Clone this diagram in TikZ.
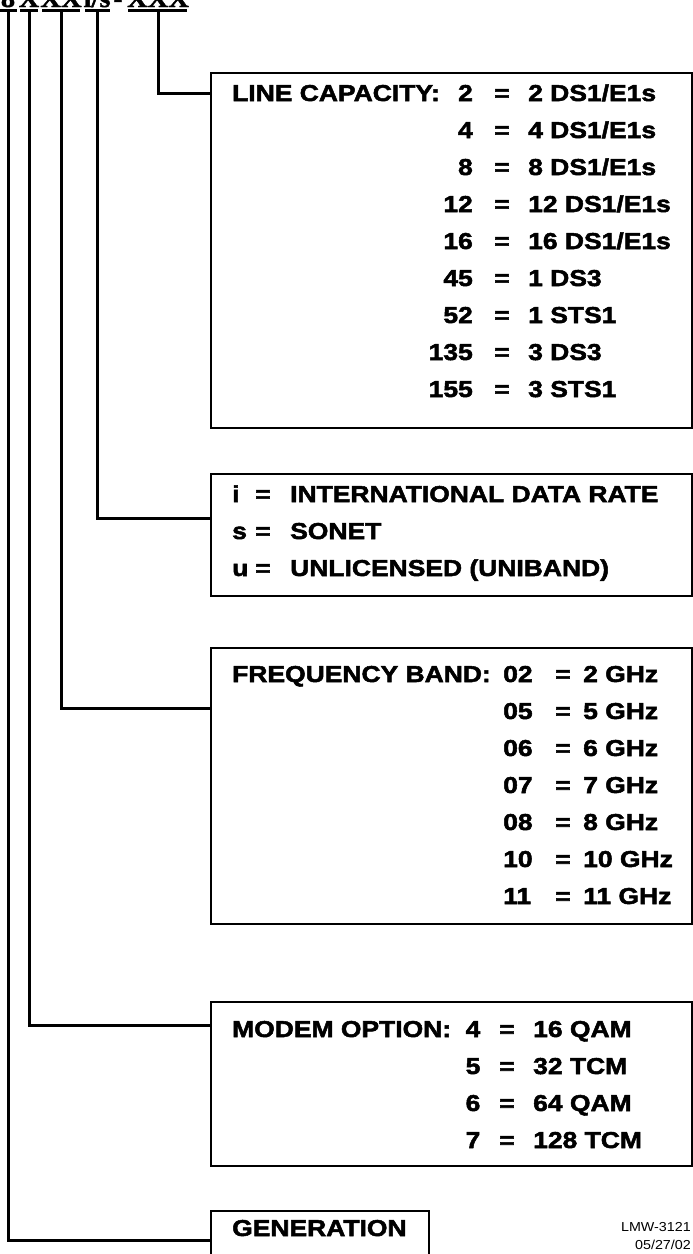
\documentclass[tikz,border=0pt]{standalone}
\usepackage{fontspec}
\newfontfamily\etiq[FakeStretch=1.15,FakeBold=2.2]{Liberation Sans Bold}
\newfontfamily\etiqfina[FakeStretch=1.1]{Liberation Sans}
\newfontfamily\cabecera[FakeStretch=1.1,FakeBold=1.5]{Liberation Serif Bold}
\begin{document}
\begin{tikzpicture}[x=1pt, y=-1pt,
		caja/.style={draw, line width=1.8pt, minimum width=481pt, inner sep=0pt, anchor=north west},
		txt/.style={font=\etiq\fontsize{23}{23}\selectfont, inner sep=0pt},
		cab/.style={font=\cabecera\fontsize{26}{26}\selectfont, inner sep=0pt, anchor=base},
		hilo/.style={line width=3pt},
		nota/.style={font=\etiqfina\fontsize{13}{13}\selectfont, inner sep=0pt, anchor=base east}]

	\useasboundingbox (0,0) rectangle (693,1254);

	% Cabecera (cortada por arriba)
	\node[cab] (hGen) at (8,7) {8};
	\node[cab] (hMod) at (29,7) {X};
	\node[cab] (hFrq) at (61,7) {XX};
	\node[cab] (hOpt) at (97,7) {i/s};
	\node[cab] (hGuion) at (118,7) {-};
	\node[cab] (hCap) at (158,7) {XXX};

	\coordinate (uGen) at (8,10.5);
	\coordinate (uMod) at (29,10.5);
	\coordinate (uFrq) at (61,10.5);
	\coordinate (uOpt) at (97,10.5);
	\coordinate (uCap) at (158,10.5);

	\draw[hilo] (0,10.5) -- (17,10.5);
	\draw[hilo] (20,10.5) -- (38,10.5);
	\draw[hilo] (42,10.5) -- (80,10.5);
	\draw[hilo] (85,10.5) -- (110,10.5);
	\draw[hilo] (128,10.5) -- (187,10.5);

	% Cajas
	\node[caja, minimum height=355pt] (cap) at (210,72) {};
	\node[caja, minimum height=122pt] (opt) at (210,473) {};
	\node[caja, minimum height=276pt] (frq) at (210,647) {};
	\node[caja, minimum height=164pt] (mod) at (210,1001) {};
	\node[caja, minimum width=218pt, minimum height=60pt] (gen) at (210,1210) {};

	% Conectores
	\draw[hilo] (uCap) |- ([yshift=-21pt]cap.north west);
	\draw[hilo] (uOpt) |- ([yshift=-45pt]opt.north west);
	\draw[hilo] (uFrq) |- ([yshift=-61pt]frq.north west);
	\draw[hilo] (uMod) |- ([yshift=-24pt]mod.north west);
	\draw[hilo] (uGen) |- ([yshift=-30pt]gen.north west);

	% Capacidad de linea
	\node[txt, anchor=base west] (capT) at (232,101) {LINE CAPACITY:};
	\foreach \n/\v [count=\i from 0] in {2/{2 DS1/E1s}, 4/{4 DS1/E1s}, 8/{8 DS1/E1s}, 12/{12 DS1/E1s}, 16/{16 DS1/E1s}, 45/{1 DS3}, 52/{1 STS1}, 135/{3 DS3}, 155/{3 STS1}} {
		\node[txt, anchor=base east] (capN\i) at (473,101+37*\i) {\n};
		\node[txt, anchor=base] (capE\i) at (502,101+37*\i) {=};
		\node[txt, anchor=base west] (capV\i) at (528,101+37*\i) {\v};
	}

	% Opciones i/s/u
	\foreach \n/\v [count=\i from 0] in {i/{INTERNATIONAL DATA RATE}, s/SONET, u/{UNLICENSED (UNIBAND)}} {
		\node[txt, anchor=base west] (optN\i) at (232,502+37*\i) {\n};
		\node[txt, anchor=base] (optE\i) at (263,502+37*\i) {=};
		\node[txt, anchor=base west] (optV\i) at (290,502+37*\i) {\v};
	}

	% Banda de frecuencia
	\node[txt, anchor=base west] (frqT) at (232,682) {FREQUENCY BAND:};
	\foreach \n/\v [count=\i from 0] in {02/{2 GHz}, 05/{5 GHz}, 06/{6 GHz}, 07/{7 GHz}, 08/{8 GHz}, 10/{10 GHz}, 11/{11 GHz}} {
		\node[txt, anchor=base west] (frqN\i) at (503,682+37*\i) {\n};
		\node[txt, anchor=base] (frqE\i) at (563,682+37*\i) {=};
		\node[txt, anchor=base west] (frqV\i) at (583,682+37*\i) {\v};
	}

	% Modem
	\node[txt, anchor=base west] (modT) at (232,1037) {MODEM OPTION:};
	\foreach \n/\v [count=\i from 0] in {4/{16 QAM}, 5/{32 TCM}, 6/{64 QAM}, 7/{128 TCM}} {
		\node[txt, anchor=base] (modN\i) at (473,1037+37*\i) {\n};
		\node[txt, anchor=base] (modE\i) at (507,1037+37*\i) {=};
		\node[txt, anchor=base west] (modV\i) at (533,1037+37*\i) {\v};
	}

	% Generacion y referencia
	\node[txt, anchor=base west] (genT) at (232,1236) {GENERATION};
	\node[nota] (ref) at (691,1231) {LMW-3121};
	\node[nota] (fecha) at (691,1249) {05/27/02};

\end{tikzpicture}
\end{document}
